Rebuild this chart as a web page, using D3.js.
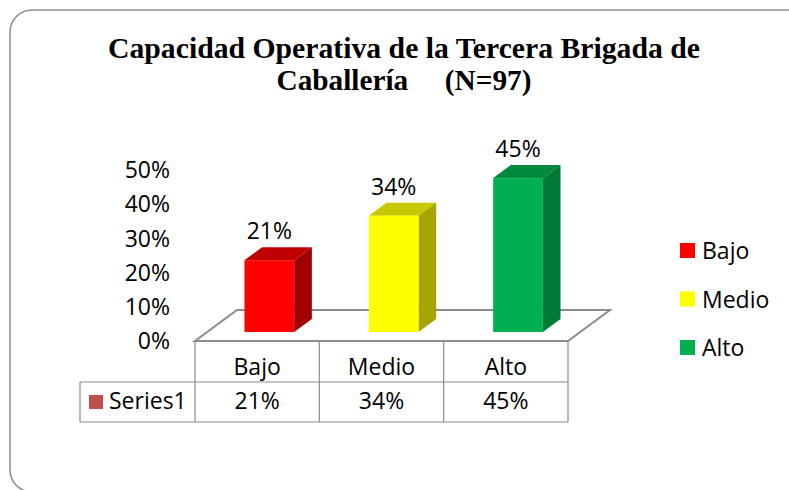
<!DOCTYPE html>
<html>
<head>
<meta charset="utf-8">
<script src="https://cdn.jsdelivr.net/npm/d3@7"></script>
<style>
  html, body { margin: 0; padding: 0; background: #fff; }
  svg { display: block; }
</style>
</head>
<body>
<svg id="chart" width="789" height="490"></svg>
<script>
// ---- data ----
const categories = ["Bajo", "Medio", "Alto"];
const values = [0.21, 0.34, 0.45];
const seriesName = "Series1";
const yTicks = [0, 0.1, 0.2, 0.3, 0.4, 0.5];
const frontColors = ["#ff0000", "#ffff00", "#00b050"];
const topColors = ["#c00000", "#c8c800", "#008a3d"];
const sideColors = ["#a00000", "#a6a600", "#007a35"];
const titleLines = ["Capacidad Operativa de la Tercera Brigada de", "Caballer\u00eda     (N=97)"];

// ---- layout ----
const svg = d3.select("#chart");
const font = "'Open Sans', 'Noto Sans', sans-serif";
const fs = 23;
const floorFront = 341, floorLeft = 195, floorRight = 568;
const depthDx = 42, depthDy = -31;
const barFront = 0.29, barBack = 0.71;

const x = d3.scaleBand().domain(categories).range([floorLeft, floorRight]).paddingInner(0).paddingOuter(0);
const y = d3.scaleLinear().domain([0, 0.5]).range([floorFront, 170]);
const pct = d3.format(".0%");

// chart border
svg.append("rect")
  .attr("x", 10).attr("y", 10).attr("width", 800).attr("height", 482)
  .attr("rx", 22).attr("ry", 22)
  .attr("fill", "#fff").attr("stroke", "#8c8c8c").attr("stroke-width", 1.5);

// title
svg.selectAll("text.title").data(titleLines).enter().append("text")
  .attr("class", "title")
  .attr("x", 404).attr("y", (d, i) => 58 + i * 32)
  .attr("text-anchor", "middle")
  .attr("font-family", "'Liberation Serif', 'Times New Roman', serif")
  .attr("font-weight", "bold").attr("font-size", 30)
  .style("white-space", "pre")
  .attr("textLength", (d, i) => i === 0 ? 592 : 255)
  .attr("lengthAdjust", "spacingAndGlyphs")
  .text(d => d);

// floor
const fl = [
  [floorLeft, floorFront], [floorRight, floorFront],
  [floorRight + depthDx, floorFront + depthDy], [floorLeft + depthDx, floorFront + depthDy]
];
svg.append("polygon")
  .attr("points", fl.map(p => p.join(",")).join(" "))
  .attr("fill", "#fff").attr("stroke", "#8c8c8c").attr("stroke-width", 2);

// y axis labels
svg.selectAll("text.ytick").data(yTicks).enter().append("text")
  .attr("class", "ytick")
  .attr("x", 170).attr("y", d => y(d)).attr("dy", "0.36em")
  .attr("text-anchor", "end")
  .attr("font-family", font).attr("font-size", fs).attr("fill", "#000")
  .text(d => pct(d));

// bars
const fdx = depthDx * barFront, fdy = depthDy * barFront;
const sdx = depthDx * (barBack - barFront), sdy = depthDy * (barBack - barFront);
const bw = x.bandwidth() * 0.4;
const bars = categories.map((c, i) => {
  const cx = x(c) + x.bandwidth() / 2 + fdx;
  return { c, i, v: values[i], x0: cx - bw / 2, x1: cx + bw / 2, yt: y(values[i]) + fdy, yb: y(0) + fdy };
});
const g = svg.append("g");
bars.forEach(b => {
  g.append("polygon")
    .attr("points", [[b.x0, b.yt], [b.x1, b.yt], [b.x1 + sdx, b.yt + sdy], [b.x0 + sdx, b.yt + sdy]].map(p => p.join(",")).join(" "))
    .attr("fill", topColors[b.i]);
  g.append("polygon")
    .attr("points", [[b.x1, b.yt], [b.x1 + sdx, b.yt + sdy], [b.x1 + sdx, b.yb + sdy], [b.x1, b.yb]].map(p => p.join(",")).join(" "))
    .attr("fill", sideColors[b.i]);
  g.append("rect")
    .attr("x", b.x0).attr("y", b.yt).attr("width", b.x1 - b.x0).attr("height", b.yb - b.yt)
    .attr("fill", frontColors[b.i]);
  g.append("text")
    .attr("x", (b.x0 + b.x1) / 2).attr("y", b.yt + sdy - 8)
    .attr("text-anchor", "middle")
    .attr("font-family", font).attr("font-size", fs).attr("fill", "#000")
    .text(pct(b.v));
});

// data table
const row1 = floorFront, row2 = 382, row3 = 422, tLeft = 80;
const lineColor = "#8c8c8c";
const tg = svg.append("g").attr("stroke", lineColor).attr("stroke-width", 1.2);
[floorLeft, ...categories.map(c => x(c) + x.bandwidth())].forEach(xx => {
  tg.append("line").attr("x1", xx).attr("x2", xx).attr("y1", row1).attr("y2", row3);
});
tg.append("line").attr("x1", tLeft).attr("x2", floorRight).attr("y1", row2).attr("y2", row2);
tg.append("line").attr("x1", tLeft).attr("x2", floorRight).attr("y1", row3).attr("y2", row3);
tg.append("line").attr("x1", tLeft).attr("x2", tLeft).attr("y1", row2).attr("y2", row3);

svg.selectAll("text.cat").data(categories).enter().append("text")
  .attr("class", "cat")
  .attr("x", d => x(d) + x.bandwidth() / 2).attr("y", 375)
  .attr("text-anchor", "middle")
  .attr("font-family", font).attr("font-size", fs).attr("fill", "#000")
  .text(d => d);
svg.selectAll("text.val").data(values).enter().append("text")
  .attr("class", "val")
  .attr("x", (d, i) => x(categories[i]) + x.bandwidth() / 2).attr("y", 409)
  .attr("text-anchor", "middle")
  .attr("font-family", font).attr("font-size", fs).attr("fill", "#000")
  .text(d => pct(d));
svg.append("rect").attr("x", 89).attr("y", 395).attr("width", 14).attr("height", 14).attr("fill", "#c0504d");
svg.append("text").attr("x", 109).attr("y", 409)
  .attr("font-family", font).attr("font-size", fs).attr("fill", "#000").text(seriesName);

// legend
const lg = svg.selectAll("g.leg").data(categories).enter().append("g")
  .attr("class", "leg")
  .attr("transform", (d, i) => `translate(680, ${243 + i * 48.5})`);
lg.append("rect").attr("width", 15).attr("height", 15).attr("fill", (d, i) => frontColors[i]);
lg.append("text").attr("x", 22).attr("y", 16)
  .attr("font-family", font).attr("font-size", fs).attr("fill", "#000").text(d => d);
</script>
</body>
</html>
